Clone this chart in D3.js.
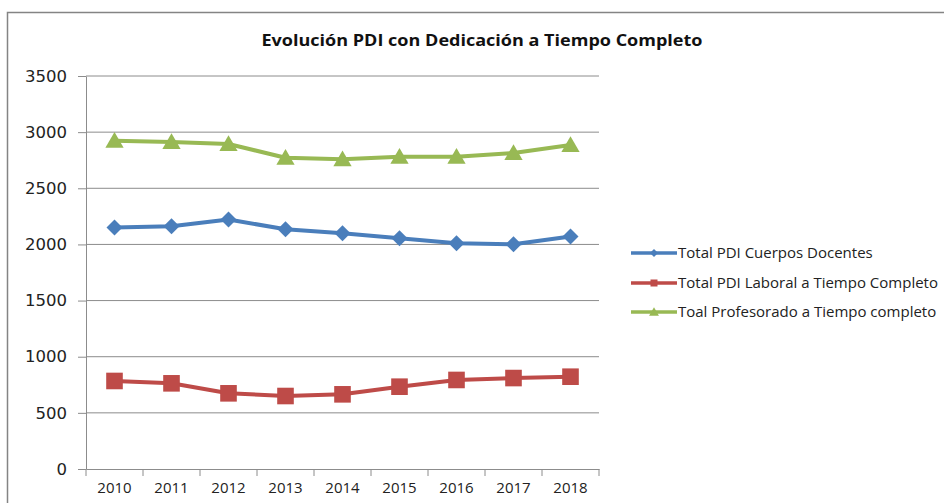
<!DOCTYPE html>
<html>
<head>
<meta charset="utf-8">
<script src="https://cdn.jsdelivr.net/npm/d3@7/dist/d3.min.js"></script>
<style>
  body { margin: 0; background: #fff; }
  svg { display: block; }
</style>
</head>
<body>
<div id="chart"></div>
<script>
(function(){
  var years = ["2010","2011","2012","2013","2014","2015","2016","2017","2018"];
  var cuerpos = [2150,2162,2222,2135,2100,2054,2010,2001,2070];
  var laboral = [784,763,674,650,665,733,793,810,822];
  var profesorado = [2924,2912,2894,2772,2758,2781,2781,2814,2885];
  var seriesNames = ["Total PDI Cuerpos Docentes", "Total PDI Laboral a Tiempo Completo", "Toal Profesorado a Tiempo completo"];
  var yTicks = [0,500,1000,1500,2000,2500,3000,3500];

  var W = 944, H = 503;
  var left = 86, right = 599, top = 76, bottom = 469;
  var colors = ["#4a7ebb", "#be4b48", "#98b954"];
  var shapes = ["diamond", "square", "triangle"];

  var svg = d3.select("#chart").append("svg")
              .attr("width", W).attr("height", H);

  // 外枠
  svg.append("path")
     .attr("d", "M7.5," + H + "V12.5H" + W)
     .attr("fill", "none").attr("stroke", "#848484").attr("stroke-width", 1.5);

  svg.append("text")
     .attr("x", 482).attr("y", 46)
     .attr("text-anchor", "middle")
     .attr("font-family", "Open Sans")
     .attr("font-weight", "bold")
     .attr("font-size", 16)
     .attr("textLength", 441)
     .attr("lengthAdjust", "spacingAndGlyphs")
     .attr("fill", "#111")
     .text("Evolución PDI con Dedicación a Tiempo Completo");

  var x = d3.scaleBand().domain(years).range([left, right]);
  var y = d3.scaleLinear().domain([0, 3500]).range([bottom, top]);

  // grid
  svg.append("g").selectAll("line")
     .data(yTicks.slice(1))
     .enter().append("line")
     .attr("x1", left).attr("x2", right)
     .attr("y1", function(d){ return y(d); })
     .attr("y2", function(d){ return y(d); })
     .attr("stroke", "#8c8c8c").attr("stroke-width", 1);

  var yAxis = svg.append("g")
     .attr("transform", "translate(" + left + ",0)")
     .call(d3.axisLeft(y).tickValues(yTicks).tickFormat(d3.format("d"))
             .tickSize(8).tickPadding(11).tickSizeOuter(0));
  yAxis.select(".domain").attr("stroke", "#8c8c8c");
  yAxis.selectAll(".tick line").attr("stroke", "#8c8c8c");
  yAxis.selectAll("text")
       .attr("font-family", "DejaVu Sans")
       .attr("font-size", 16.5)
       .attr("fill", "#222");

  var xAxis = svg.append("g")
     .attr("transform", "translate(0," + bottom + ")")
     .call(d3.axisBottom(x).tickSize(0).tickPadding(13));
  xAxis.select(".domain").attr("stroke", "#8c8c8c");
  xAxis.selectAll("text")
       .attr("font-family", "Open Sans")
       .attr("font-size", 15)
       .attr("fill", "#222");
  // 区切りの目盛り
  svg.append("g").selectAll("line")
     .data(years.concat(["end"]))
     .enter().append("line")
     .attr("x1", function(d, i){ return left + i * x.step(); })
     .attr("x2", function(d, i){ return left + i * x.step(); })
     .attr("y1", bottom).attr("y2", bottom + 7)
     .attr("stroke", "#8c8c8c");

  function marker(sel, shape, s){
    if (shape == "diamond"){
      sel.append("path").attr("d", "M0," + (-s) + "L" + s + ",0L0," + s + "L" + (-s) + ",0Z");
    } else if (shape == "square"){
      sel.append("rect").attr("x", -s).attr("y", -s).attr("width", 2*s).attr("height", 2*s);
    } else {
      sel.append("path").attr("d", "M0," + (-s*1.05) + "L" + (s*1.1) + "," + (s*0.85) + "L" + (-s*1.1) + "," + (s*0.85) + "Z");
    }
  }

  var data = [cuerpos, laboral, profesorado];
  var line = d3.line()
     .x(function(d, i){ return x(years[i]) + x.bandwidth()/2; })
     .y(function(d){ return y(d); });

  data.forEach(function(vals, k){
    svg.append("path")
       .datum(vals)
       .attr("d", line)
       .attr("fill", "none")
       .attr("stroke", colors[k])
       .attr("stroke-width", 4)
       .attr("stroke-linejoin", "round");
    var sizes = [8, 8.3, 8.3];
    svg.append("g").selectAll("g")
       .data(vals)
       .enter().append("g")
       .attr("transform", function(d, i){
         return "translate(" + (x(years[i]) + x.bandwidth()/2) + "," + y(d) + ")";
       })
       .attr("fill", colors[k])
       .each(function(){ marker(d3.select(this), shapes[k], sizes[k]); });
  });

  // 凡例
  var legend = svg.append("g");
  var rowsY = [253, 283, 312];
  seriesNames.forEach(function(name, k){
    var g = legend.append("g").attr("transform", "translate(0," + rowsY[k] + ")");
    g.append("line").attr("x1", 631).attr("x2", 677)
     .attr("stroke", colors[k]).attr("stroke-width", 3.5);
    var m = g.append("g").attr("transform", "translate(654,0)").attr("fill", colors[k]);
    marker(m, shapes[k], [4, 3.5, 4.5][k]);
    g.append("text")
     .attr("x", 678).attr("y", 5)
     .attr("font-family", "Open Sans")
     .attr("font-size", 15)
     .attr("fill", "#222")
     .text(name);
  });
})();
</script>
</body>
</html>
